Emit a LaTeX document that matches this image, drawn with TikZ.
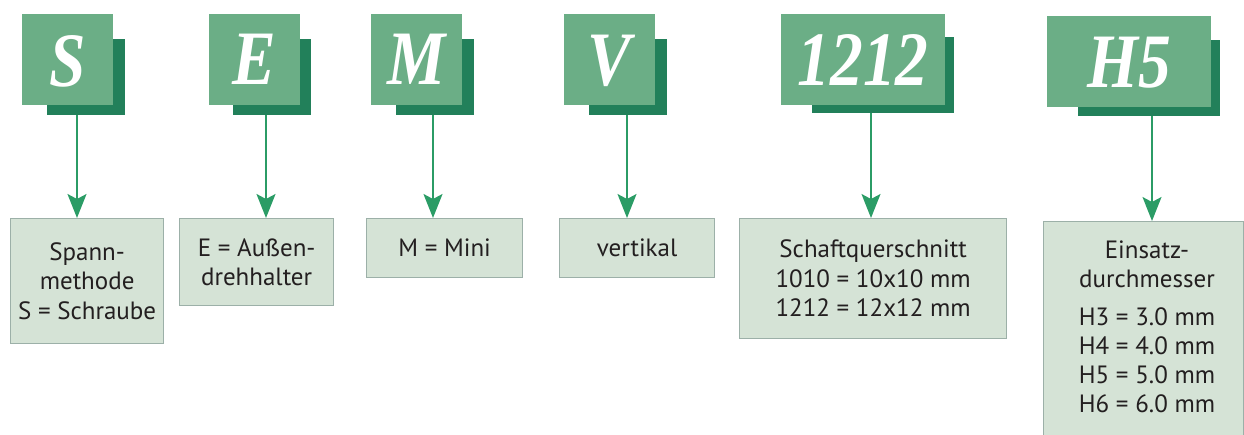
\documentclass[tikz,border=0pt]{standalone}
\usepackage{fontspec}
\setmainfont{PT Sans}
\newfontfamily\letterfont[FakeStretch=0.85]{Liberation Serif}
\usetikzlibrary{arrows.meta}
\definecolor{frontgreen}{HTML}{6BAE86}
\definecolor{shadowgreen}{HTML}{22805A}
\definecolor{arrowgreen}{HTML}{2B9C66}
\definecolor{boxfill}{HTML}{D5E3D6}
\definecolor{boxborder}{HTML}{9CB0A8}
\definecolor{textcol}{HTML}{231F20}
\begin{document}
\begin{tikzpicture}[x=1pt,y=-1pt,
  frontbox/.style={fill=frontgreen, draw=none, inner sep=0, anchor=north west},
  shadebox/.style={fill=shadowgreen, draw=none, inner sep=0, anchor=north west},
  lettertext/.style={text=white, font=\letterfont\bfseries\itshape\fontsize{77}{77}\selectfont, anchor=base, inner sep=0},
  infobox/.style={fill=boxfill, draw=boxborder, line width=1.2pt, anchor=north west, inner sep=0, align=center, text=textcol, font=\fontsize{25}{29.5}\selectfont},
  infotext/.style={inner sep=0, align=center, text=textcol, font=\fontsize{25}{29}\selectfont},
  arr/.style={draw=arrowgreen, line width=1.5pt, -{Stealth[length=24pt,width=19pt,inset=5pt]}}
]
\useasboundingbox (0,0) rectangle (1244,435);

% S
\node[shadebox, minimum width=78pt, minimum height=76pt] (sS) at (47,39) {};
\node[frontbox, minimum width=91pt, minimum height=91pt] (fS) at (22,14) {};
\node[lettertext] (lS) at (67.5,87) {S};
\node[infobox, minimum width=153pt, minimum height=125pt] (bS) at (10,218) {Spann-\\methode\\S = Schraube};
\coordinate (tS) at (77,115);
\draw[arr] (tS) -- (tS |- bS.north);

% E
\node[shadebox, minimum width=78pt, minimum height=76pt] (sE) at (233,39) {};
\node[frontbox, minimum width=91pt, minimum height=91pt] (fE) at (209,14) {};
\node[lettertext] (lE) at (254.5,85) {E};
\node[infobox, minimum width=154pt, minimum height=87pt] (bE) at (179,218) {E = Außen-\\drehhalter};
\coordinate (tE) at (266,115);
\draw[arr] (tE) -- (tE |- bE.north);

% M
\node[shadebox, minimum width=78pt, minimum height=76pt] (sM) at (396,39) {};
\node[frontbox, minimum width=91pt, minimum height=91pt] (fM) at (371,14) {};
\node[lettertext] (lM) at (416.5,85) {M};
\node[infobox, minimum width=156pt, minimum height=59pt] (bM) at (366,218) {M = Mini};
\coordinate (tM) at (433,115);
\draw[arr] (tM) -- (tM |- bM.north);

% V
\node[shadebox, minimum width=78pt, minimum height=76pt] (sV) at (589,39) {};
\node[frontbox, minimum width=91pt, minimum height=91pt] (fV) at (564,14) {};
\node[lettertext] (lV) at (609.5,86) {V};
\node[infobox, minimum width=155pt, minimum height=59pt] (bV) at (559,218) {vertikal};
\coordinate (tV) at (627,115);
\draw[arr] (tV) -- (tV |- bV.north);

% 1212
\node[shadebox, minimum width=142pt, minimum height=76pt] (s12) at (812,37) {};
\node[frontbox, minimum width=164pt, minimum height=91pt] (f12) at (781,14) {};
\node[lettertext] (l12) at (863,86) {1212};
\node[infobox, minimum width=267pt, minimum height=120pt] (b12) at (739,218) {Schaftquerschnitt\\1010 = 10x10 mm\\1212 = 12x12 mm};
\coordinate (t12) at (871,113);
\draw[arr] (t12) -- (t12 |- b12.north);

% H5
\node[shadebox, minimum width=142pt, minimum height=76pt] (sH) at (1078,40) {};
\node[frontbox, minimum width=164pt, minimum height=91pt] (fH) at (1047,16) {};
\node[lettertext] (lH) at (1129,88) {H5};
\node[infobox, minimum width=200pt, minimum height=230pt] (bH) at (1043,221) {};
\node[infotext, anchor=base] (tHtext) at (1147,412) {Einsatz-\\durchmesser\\[9pt]H3 = 3.0 mm\\H4 = 4.0 mm\\H5 = 5.0 mm\\H6 = 6.0 mm};
\coordinate (tH) at (1152,116);
\draw[arr] (tH) -- (tH |- bH.north);
\end{tikzpicture}
\end{document}
